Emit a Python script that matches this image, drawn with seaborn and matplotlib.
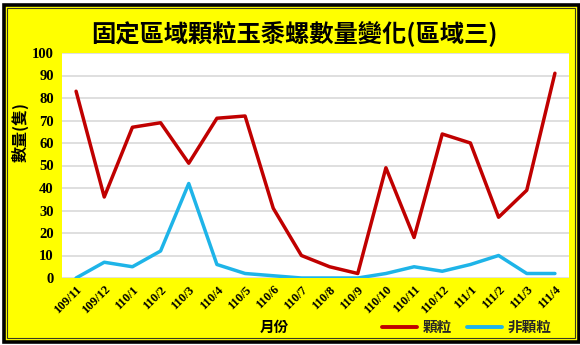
import matplotlib
matplotlib.use("Agg")
import matplotlib.pyplot as plt
from matplotlib.patches import Rectangle
from matplotlib.lines import Line2D
import seaborn as sns
import pandas as pd

months = ["109/11", "109/12", "110/1", "110/2", "110/3", "110/4", "110/5", "110/6", "110/7",
          "110/8", "110/9", "110/10", "110/11", "110/12", "111/1", "111/2", "111/3", "111/4"]
granular = [83, 36, 67, 69, 51, 71, 72, 31, 10, 5, 2, 49, 18, 64, 60, 27, 39, 91]
non_granular = [0, 7, 5, 12, 42, 6, 2, 1, 0, 0, 0, 2, 5, 3, 6, 10, 2, 2]
series_names = ["顆粒", "非顆粒"]
y_ticks = list(range(0, 101, 10))

title_text = "固定區域顆粒玉黍螺數量變化(區域三)"
x_label = "月份"
y_label = "數量(隻)"

colors = {"顆粒": "#C00000", "非顆粒": "#1EB4E8"}
yellow = "#FFFF00"

df = pd.DataFrame({
    "pos": list(range(len(months))) * 2,
    "月份": months * 2,
    "數量": granular + non_granular,
    "類別": [series_names[0]] * len(months) + [series_names[1]] * len(months),
})

sns.set_theme(style="white")
cjk = ["Noto Sans CJK TC", "DejaVu Sans"]
serif = ["Liberation Serif", "DejaVu Serif"]
plt.rcParams["font.family"] = cjk

W, H = 580, 345
fig = plt.figure(figsize=(W / 100, H / 100), dpi=100)
fig.patch.set_facecolor("white")

# yellow panel with double dark frame
fig.patches.append(Rectangle((3.5 / W, 1 - 341.5 / H), 575 / W, 337 / H,
                             transform=fig.transFigure, facecolor=yellow,
                             edgecolor="black", linewidth=2.6, zorder=-10))
fig.patches.append(Rectangle((7 / W, 1 - 337.5 / H), 568 / W, 330 / H,
                             transform=fig.transFigure, facecolor="none",
                             edgecolor="#3a3a20", linewidth=0.8, zorder=-9))

ax = fig.add_axes([62 / W, 1 - 278 / H, (569 - 62) / W, (278 - 53) / H])
ax.set_facecolor("white")

sns.lineplot(data=df, x="pos", y="數量", hue="類別", palette=colors,
             linewidth=2.5, ax=ax, legend=False, sort=False)

ax.set_xlim(-0.5, len(months) - 0.5)
ax.set_ylim(0, 100)
ax.set_yticks(y_ticks)
ax.set_yticklabels([str(v) for v in y_ticks], fontfamily=serif,
                   fontweight="bold", fontsize=10.5, color="black")
ax.set_xticks(range(len(months)))
ax.set_xticklabels(months, rotation=45, ha="right", rotation_mode="anchor",
                   fontfamily=serif, fontweight="bold", fontsize=9, color="black")
ax.tick_params(axis="x", length=0, pad=4)
ax.tick_params(axis="y", length=0, pad=6)
ax.grid(axis="y", color="#d9d9d9", linewidth=1.2)
ax.grid(axis="x", visible=False)
ax.set_axisbelow(True)
for s in ax.spines.values():
    s.set_visible(False)
ax.set_xlabel("")
ax.set_ylabel("")

fig.text(294 / W, 1 - 33 / H, title_text, ha="center", va="center",
         fontsize=17.5, fontweight="bold", family=cjk, color="black")
fig.text(20 / W, 1 - 132 / H, y_label, ha="center", va="center", rotation=90,
         fontsize=11.5, fontweight="bold", family=cjk, color="black")
fig.text(274 / W, 1 - 327 / H, x_label, ha="center", va="center",
         fontsize=10.5, fontweight="bold", family=cjk, color="black")

handles = [Line2D([0], [0], color=colors[n], linewidth=2.8) for n in series_names]
leg = fig.legend(handles, series_names, loc="center", bbox_to_anchor=(467 / W, 1 - 327 / H),
                 ncol=2, frameon=False, handlelength=2.4, handletextpad=0.4,
                 columnspacing=1.0, prop={"family": cjk, "weight": "bold", "size": 10.5})

fig.savefig("out.png", dpi=100, facecolor=fig.get_facecolor())
